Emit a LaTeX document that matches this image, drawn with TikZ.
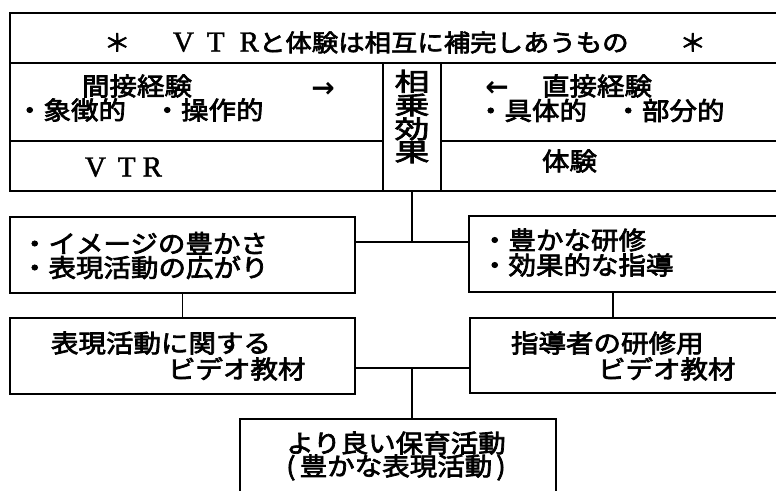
\documentclass[tikz,border=0pt]{standalone}
\usepackage{fontspec}
\newfontfamily\jp[FakeStretch=1.1,FakeBold=2.8]{Noto Sans CJK JP}
\newfontfamily\jpw[FakeStretch=1.4,FakeBold=2.8]{Noto Sans CJK JP}
\newfontfamily\vtrfont[FakeBold=1.5]{Liberation Serif}
\newfontfamily\arrfont{DejaVu Sans}
\newcommand\lmv{\fontsize{29}{29}\selectfont\vtrfont}
\tikzset{
  cell/.style={draw, rectangle, line width=1.3pt, inner sep=0pt, outer sep=0pt},
  txt/.style={inner sep=0pt, outer sep=0pt, anchor=base west, font=\fontsize{25}{25}\selectfont\jp},
  ttl/.style={inner sep=0pt, outer sep=0pt, anchor=base west, font=\fontsize{24}{24}\selectfont\jp},
  arr/.style={inner sep=0pt, outer sep=0pt, anchor=base, text height=14pt, text depth=0pt, font=\fontsize{28}{28}\selectfont\arrfont\bfseries},
  wire/.style={line width=1.2pt},
}
\begin{document}
\begin{tikzpicture}[x=1pt,y=-1pt]
\useasboundingbox (0,0) rectangle (776,490);
\clip (0,0) rectangle (776,490);
\fill[white] (0,0) rectangle (776,490);
% frame cells
\node[cell, minimum width=780pt, minimum height=50pt] (title) at (400,38) {};
\node[cell, minimum width=373pt, minimum height=78pt] (lrow2) at (196.5,102) {};
\node[cell, minimum width=373pt, minimum height=50pt] (lrow3) at (196.5,166) {};
\node[cell, minimum width=58pt, minimum height=128pt] (col) at (412,127) {};
\node[cell, minimum width=349pt, minimum height=78pt] (rrow2) at (615.5,102) {};
\node[cell, minimum width=349pt, minimum height=50pt] (rrow3) at (615.5,166) {};
% lower boxes
\node[cell, minimum width=345pt, minimum height=76pt] (L1) at (182.5,255) {};
\node[cell, minimum width=321pt, minimum height=76pt] (R1) at (629.5,254) {};
\node[cell, minimum width=345pt, minimum height=76pt] (L2) at (182.5,356) {};
\node[cell, minimum width=320pt, minimum height=75pt] (R2) at (630,355.5) {};
\node[cell, minimum width=316pt, minimum height=101pt] (bot) at (398,469.5) {};
% connectors
\coordinate (j1) at (412,242);
\coordinate (j2) at (412,368);
\draw[wire] (col.south) -- (j1);
\draw[wire] (L1.east |- j1) -- (R1.west |- j1);
\draw[wire] (L1.south) -- (L2.north);
\draw[wire] ([xshift=-16.5pt]R1.south) -- ([xshift=-16.5pt]R1.south |- R2.north);
\draw[wire] (L2.east |- j2) -- (R2.west |- j2);
\draw[wire] (j2) -- (j2 |- bot.north);
% texts
\node[ttl] (tt) at (104,51.5) {＊\hspace{42.6pt}{\lmv V\hspace{13pt}T\hspace{15pt}R}と体験は相互に補完しあうもの\hspace{51pt}＊};
\node[txt] (ind) at (82,95.5) {間接経験};
\node[arr] (ra) at (323,97) {→};
\node[txt] (indp) at (16,119.5) {・象徴的　・操作的};
\node[arr] (la) at (497,96) {←};
\node[txt] (dir) at (542,95.5) {直接経験};
\node[txt] (dirp) at (477,120) {・具体的　・部分的};
\node[txt, font=\lmv] (vtr) at (85,176.5) {V\hspace{12pt}T\hspace{7pt}R};
\node[txt] (tk) at (542,170.5) {体験};
\node[inner sep=0pt, align=center, font=\fontsize{25}{21.7}\selectfont\jpw] (syn) at (412,116.5) {相\\乗\\効\\果};
\node[txt] (l1a) at (21,253) {・イメージの豊かさ};
\node[txt] (l1b) at (21,277) {・表現活動の広がり};
\node[txt] (r1a) at (481,249.5) {・豊かな研修};
\node[txt] (r1b) at (481,274.5) {・効果的な指導};
\node[txt] (l2a) at (51,352.5) {表現活動に関する};
\node[txt] (l2b) at (168,378.5) {ビデオ教材};
\node[txt] (r2a) at (511,352.5) {指導者の研修用};
\node[txt] (r2b) at (598,378.5) {ビデオ教材};
\node[txt, anchor=base] (b1) at (396,452.5) {より良い保育活動};
\node[txt, anchor=base] (b2) at (396,475.5) {(\,豊かな表現活動\,)};
\end{tikzpicture}
\end{document}
